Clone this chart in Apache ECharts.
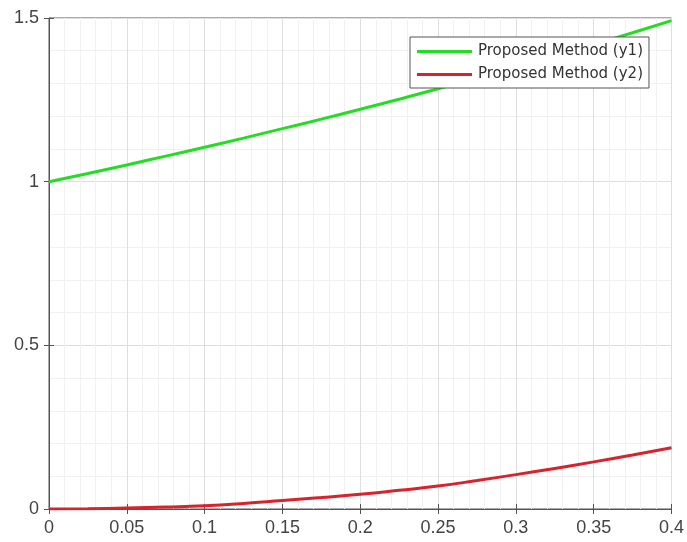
<!DOCTYPE html>
<html>
<head>
<meta charset="utf-8">
<script src="https://cdn.jsdelivr.net/npm/echarts@6/dist/echarts.min.js"></script>
<style>
html, body { margin: 0; padding: 0; background: #fff; }
#chart { width: 687px; height: 542px; }
</style>
</head>
<body>
<div id="chart"></div>
<script>
var xValues = [0, 0.025, 0.05, 0.075, 0.1, 0.125, 0.15, 0.175, 0.2, 0.225, 0.25, 0.275, 0.3, 0.325, 0.35, 0.375, 0.4];
var y1Values = [1.000, 1.025, 1.051, 1.078, 1.105, 1.133, 1.162, 1.191, 1.221, 1.252, 1.284, 1.317, 1.350, 1.384, 1.419, 1.455, 1.492];
var y2Values = [0.000, 0.001, 0.003, 0.006, 0.010, 0.017, 0.026, 0.035, 0.045, 0.057, 0.070, 0.087, 0.105, 0.124, 0.144, 0.165, 0.187];
var seriesNames = ['Proposed Method (y1)', 'Proposed Method (y2)'];

function pairs(ys) {
    var out = [];
    for (var i = 0; i < xValues.length; i++) out.push([xValues[i], ys[i]]);
    return out;
}

var gridLine = { show: true, lineStyle: { color: '#dedede', width: 1 } };
var minorLine = { show: true, lineStyle: { color: '#f1f1f1', width: 1 } };
var axisLabelStyle = { color: '#444', fontSize: 18, fontFamily: '"Liberation Sans", Arial, sans-serif' };

var option = {
    animation: false,
    backgroundColor: '#fff',
    grid: { left: 49, right: 15, top: 18, bottom: 33, show: true, borderColor: '#555', borderWidth: 1 },
    legend: {
        orient: 'vertical',
        left: 410,
        top: 37,
        data: seriesNames,
        backgroundColor: '#fff',
        borderColor: '#555',
        borderWidth: 1,
        padding: [7, 6, 6, 7],
        itemGap: 8,
        itemWidth: 55,
        itemHeight: 3,
        icon: 'rect',
        textStyle: { color: '#333', fontSize: 15, fontFamily: '"DejaVu Sans", sans-serif', padding: [0, 0, 0, 1] }
    },
    xAxis: [{
        type: 'value', min: 0, max: 0.4, interval: 0.05,
        axisLine: { show: true, lineStyle: { color: '#555' } },
        axisTick: { show: true, inside: true, length: 5, lineStyle: { color: '#555' } },
        minorTick: { show: false, splitNumber: 5 },
        splitLine: gridLine,
        minorSplitLine: minorLine,
        axisLabel: Object.assign({ margin: 10, formatter: function (v) { return +v.toFixed(2) + ''; } }, axisLabelStyle)
    }, {
        type: 'value', min: 0, max: 0.4, interval: 0.05, position: 'top',
        axisLine: { show: true, lineStyle: { color: '#555' } },
        axisTick: { show: true, inside: true, length: 5, lineStyle: { color: '#555' } },
        splitLine: { show: false },
        axisLabel: { show: false }
    }],
    yAxis: [{
        type: 'value', min: 0, max: 1.5, interval: 0.5,
        axisLine: { show: true, lineStyle: { color: '#555' } },
        axisTick: { show: true, inside: true, length: 5, lineStyle: { color: '#555' } },
        minorTick: { show: false, splitNumber: 5 },
        splitLine: gridLine,
        minorSplitLine: minorLine,
        axisLabel: Object.assign({ margin: 10 }, axisLabelStyle)
    }, {
        type: 'value', min: 0, max: 1.5, interval: 0.5, position: 'right',
        axisLine: { show: true, lineStyle: { color: '#555' } },
        axisTick: { show: true, inside: true, length: 5, lineStyle: { color: '#555' } },
        splitLine: { show: false },
        axisLabel: { show: false }
    }],
    series: [{
        name: seriesNames[0],
        type: 'line',
        data: pairs(y1Values),
        smooth: true,
        showSymbol: false,
        lineStyle: { color: '#22dd22', width: 3 },
        itemStyle: { color: '#22dd22' }
    }, {
        name: seriesNames[1],
        type: 'line',
        data: pairs(y2Values),
        smooth: true,
        showSymbol: false,
        lineStyle: { color: '#d8222c', width: 3 },
        itemStyle: { color: '#d8222c' }
    }]
};

var myChart = echarts.init(document.getElementById('chart'));
myChart.setOption(option);
</script>
</body>
</html>
